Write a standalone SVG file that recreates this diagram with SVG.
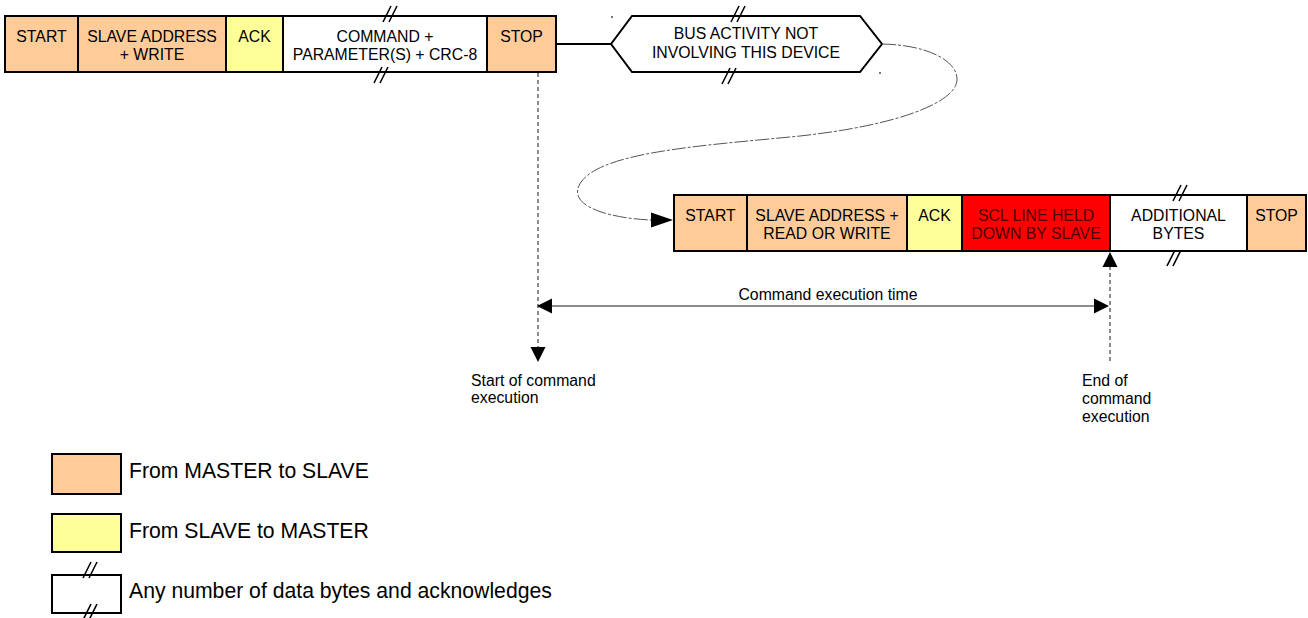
<svg xmlns="http://www.w3.org/2000/svg" width="1308" height="618" viewBox="0 0 1308 618">
<defs>
<style>
.box{stroke:#000;stroke-width:2}
.m2s{fill:#FFCC99}
.s2m{fill:#FFFF99}
.any{fill:#FFFFFF}
.held{fill:#FF0000}
.t{font-family:"Liberation Sans",Arial,sans-serif;font-size:15.8px;fill:#000;text-anchor:middle}
.tr{fill:#4a0000}
.lbl{font-family:"Liberation Sans",Arial,sans-serif;font-size:15.8px;fill:#000}
.leg{font-family:"Liberation Sans",Arial,sans-serif;font-size:21.2px;fill:#000}
.sl{stroke:#000;stroke-width:1.6;fill:none}
.dash{stroke:#666;stroke-width:1.5;stroke-dasharray:4 3;fill:none}
.arr{fill:#000}
</style>
<g id="slash">
<line class="sl" x1="-7" y1="8" x2="1" y2="-8"/>
<line class="sl" x1="-1" y1="8" x2="7" y2="-8"/>
</g>
</defs>
<rect width="1308" height="618" fill="#fff"/>

<g id="row1">
<g id="r1-start"><rect class="box m2s" x="5" y="16" width="73" height="56"/><text class="t" x="41.5" y="42">START</text></g>
<g id="r1-addr"><rect class="box m2s" x="78" y="16" width="148" height="56"/><text class="t" x="152" y="42">SLAVE ADDRESS</text><text class="t" x="152" y="60">+ WRITE</text></g>
<g id="r1-ack"><rect class="box s2m" x="226" y="16" width="57" height="56"/><text class="t" x="254.5" y="42">ACK</text></g>
<g id="r1-cmd"><rect class="box any" x="283" y="16" width="204" height="56"/><text class="t" x="385" y="42">COMMAND +</text><text class="t" x="385" y="60">PARAMETER(S) + CRC-8</text>
<use href="#slash" x="390" y="14"/><use href="#slash" x="381" y="75"/></g>
<g id="r1-stop"><rect class="box m2s" x="487" y="16" width="69" height="56"/><text class="t" x="521.5" y="42">STOP</text></g>
</g>

<g id="bus">
<polygon class="box any" points="611,44 632,16 860,16 882,44 860,72 632,72"/>
<text class="t" x="746" y="39">BUS ACTIVITY NOT</text>
<text class="t" x="746" y="58">INVOLVING THIS DEVICE</text>
<use href="#slash" x="738" y="14"/><use href="#slash" x="729" y="76"/>
<rect x="611" y="16" width="2" height="2" fill="#777"/>
<rect x="879" y="72" width="2" height="2" fill="#777"/>
</g>

<g id="row2">
<g id="r2-start"><rect class="box m2s" x="674" y="195" width="73" height="56"/><text class="t" x="710.5" y="221">START</text></g>
<g id="r2-addr"><rect class="box m2s" x="747" y="195" width="160" height="56"/><text class="t" x="827" y="221">SLAVE ADDRESS +</text><text class="t" x="827" y="239">READ OR WRITE</text></g>
<g id="r2-ack"><rect class="box s2m" x="907" y="195" width="55" height="56"/><text class="t" x="934.5" y="221">ACK</text></g>
<g id="r2-held"><rect class="box held" x="962" y="195" width="148" height="56"/><text class="t tr" x="1036" y="221">SCL LINE HELD</text><text class="t tr" x="1036" y="239">DOWN BY SLAVE</text></g>
<g id="r2-add"><rect class="box any" x="1110" y="195" width="137" height="56"/><text class="t" x="1178.5" y="221">ADDITIONAL</text><text class="t" x="1178.5" y="239">BYTES</text>
<use href="#slash" x="1180" y="193"/><use href="#slash" x="1174" y="258"/></g>
<g id="r2-stop"><rect class="box m2s" x="1247" y="195" width="59" height="56"/><text class="t" x="1276.5" y="221">STOP</text></g>
</g>

<g id="connectors">
<line x1="556" y1="44" x2="611" y2="44" stroke="#000" stroke-width="2"/>
<path d="M882,44 C930,45 958,62 957,80 C956,102 900,125 800,136 C700,146 590,152 578,188 C572,210 620,219 652,220" fill="none" stroke="#555" stroke-width="1" stroke-dasharray="14 2 3 2"/>
<polygon class="arr" points="673,220 651,212.5 651,227.5"/>
<line class="dash" x1="538" y1="73" x2="538" y2="348"/>
<polygon class="arr" points="538,362 530.5,347 545.5,347"/>
<line class="dash" x1="1110" y1="266" x2="1110" y2="364"/>
<polygon class="arr" points="1110,252 1102.5,267 1117.5,267"/>
<line x1="550" y1="306" x2="1096" y2="306" stroke="#666" stroke-width="1.5"/>
<polygon class="arr" points="537,306 552,298.5 552,313.5"/>
<polygon class="arr" points="1109,306 1094,298.5 1094,313.5"/>
</g>

<g id="labels">
<text class="lbl" x="828" y="300" text-anchor="middle">Command execution time</text>
<text class="lbl" x="471" y="386">Start of command</text>
<text class="lbl" x="471" y="403">execution</text>
<text class="lbl" x="1082" y="386">End of</text>
<text class="lbl" x="1082" y="404">command</text>
<text class="lbl" x="1082" y="422">execution</text>
</g>

<g id="legend">
<g id="leg-m2s"><rect class="box m2s" x="52" y="454" width="69" height="40"/><text class="leg" x="129" y="478">From MASTER to SLAVE</text></g>
<g id="leg-s2m"><rect class="box s2m" x="52" y="514" width="69" height="38"/><text class="leg" x="129" y="538">From SLAVE to MASTER</text></g>
<g id="leg-any"><rect class="box any" x="52" y="575" width="69" height="38"/><use href="#slash" x="90" y="570"/><use href="#slash" x="90" y="612"/><text class="leg" x="129" y="598">Any number of data bytes and acknowledges</text></g>
</g>
</svg>
